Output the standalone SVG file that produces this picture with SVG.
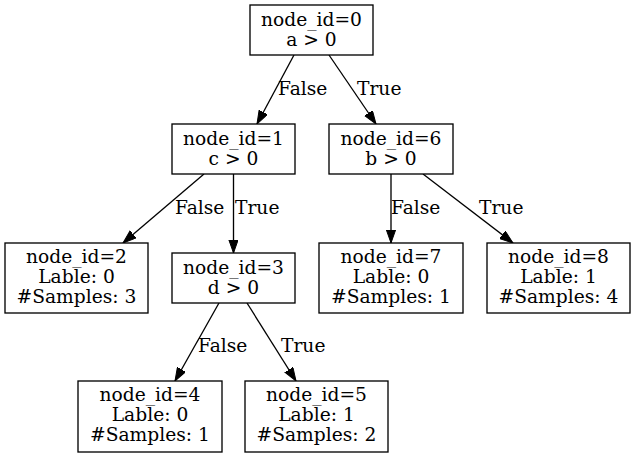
<svg xmlns="http://www.w3.org/2000/svg" width="635" height="457" viewBox="0 0 635 457">
<defs>
<style>
.n rect{fill:#fff;stroke:#000;stroke-width:1.33}
text{font-family:"DejaVu Serif","Liberation Serif",serif;font-size:18.67px;fill:#000}
.n text{text-anchor:middle}
.e line{stroke:#000;stroke-width:1.33;marker-end:url(#ah)}
</style>
<marker id="ah" markerUnits="userSpaceOnUse" markerWidth="14" markerHeight="10" refX="13.3" refY="4.7" orient="auto" viewBox="0 0 14 10">
<path d="M0,0 L13.3,4.7 L0,9.4 z" fill="#000" stroke="#000" stroke-width="1"/>
</marker>
</defs>
<rect width="635" height="457" fill="#fff"/>
<g id="edges" class="e">
<line x1="294" y1="55" x2="257" y2="124"/>
<line x1="329" y1="55" x2="376" y2="124"/>
<line x1="204" y1="174" x2="123" y2="243"/>
<line x1="233.5" y1="174" x2="233.5" y2="253"/>
<line x1="391" y1="174" x2="391" y2="243"/>
<line x1="423" y1="174" x2="513" y2="243"/>
<line x1="219" y1="303" x2="175" y2="381"/>
<line x1="247" y1="303" x2="296" y2="381"/>
<text x="278" y="95">False</text>
<text x="357" y="95">True</text>
<text x="175" y="214">False</text>
<text x="235" y="214">True</text>
<text x="391" y="214">False</text>
<text x="479" y="214">True</text>
<text x="198" y="352">False</text>
<text x="281" y="352">True</text>
</g>
<g id="node0" class="n"><rect x="250" y="5" width="123" height="50"/><text x="311.5" y="26">node_id=0</text><text x="311.5" y="46">a &gt; 0</text></g>
<g id="node1" class="n"><rect x="172" y="124" width="123" height="50"/><text x="233.5" y="145">node_id=1</text><text x="233.5" y="165">c &gt; 0</text></g>
<g id="node6" class="n"><rect x="329" y="124" width="124" height="50"/><text x="391" y="145">node_id=6</text><text x="391" y="165">b &gt; 0</text></g>
<g id="node2" class="n"><rect x="5" y="243" width="143" height="70"/><text x="76.5" y="263">node_id=2</text><text x="76.5" y="283">Lable: 0</text><text x="76.5" y="303">#Samples: 3</text></g>
<g id="node3" class="n"><rect x="172" y="253" width="123" height="50"/><text x="233.5" y="274">node_id=3</text><text x="233.5" y="294">d &gt; 0</text></g>
<g id="node7" class="n"><rect x="319" y="243" width="144" height="70"/><text x="391" y="263">node_id=7</text><text x="391" y="283">Lable: 0</text><text x="391" y="303">#Samples: 1</text></g>
<g id="node8" class="n"><rect x="487" y="243" width="143" height="70"/><text x="558.5" y="263">node_id=8</text><text x="558.5" y="283">Lable: 1</text><text x="558.5" y="303">#Samples: 4</text></g>
<g id="node4" class="n"><rect x="78" y="381" width="144" height="71"/><text x="150" y="401">node_id=4</text><text x="150" y="421">Lable: 0</text><text x="150" y="441">#Samples: 1</text></g>
<g id="node5" class="n"><rect x="245" y="381" width="143" height="71"/><text x="316.5" y="401">node_id=5</text><text x="316.5" y="421">Lable: 1</text><text x="316.5" y="441">#Samples: 2</text></g>
</svg>
